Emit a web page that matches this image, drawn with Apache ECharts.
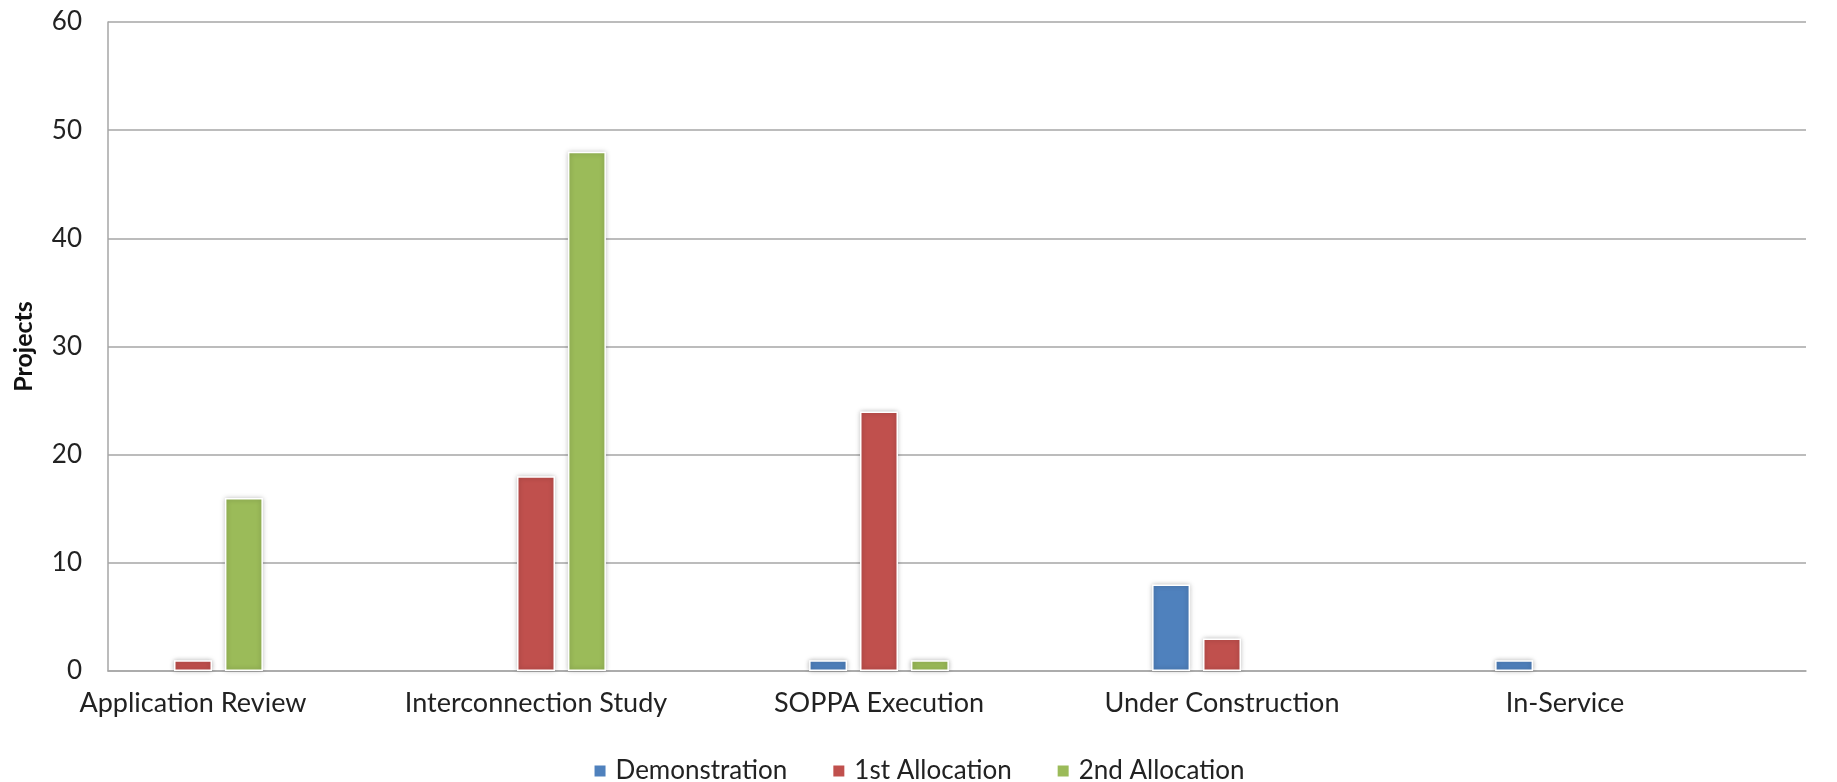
<!DOCTYPE html>
<html>
<head>
<meta charset="utf-8">
<script src="https://cdn.jsdelivr.net/npm/echarts@6/dist/echarts.min.js"></script>
<style>
html,body{margin:0;padding:0;background:#fff;}
#chart{width:1837px;height:782px;}
</style>
</head>
<body>
<div id="chart"></div>
<script>
const categories = ['Application Review', 'Interconnection Study', 'SOPPA Execution', 'Under Construction', 'In-Service'];
const demonstration = [0, 0, 1, 8, 1];
const firstAllocation = [1, 18, 24, 3, 0];
const secondAllocation = [16, 48, 1, 0, 0];
const seriesNames = ['Demonstration', '1st Allocation', '2nd Allocation'];
const colors = ['#4F81BD', '#C0504D', '#9BBB59'];

const FONT = 'Lato';
const chart = echarts.init(document.getElementById('chart'));

function barSeries(name, data, color) {
  return {
    name: name,
    type: 'bar',
    xAxisIndex: 1,
    yAxisIndex: 1,
    barWidth: 38,
    barGap: '34%',
    data: data.map(v => v === 0 ? null : v),
    itemStyle: {
      color: color,
      borderColor: '#ffffff',
      borderWidth: 1.5,
      shadowBlur: 5,
      shadowColor: 'rgba(0,0,0,0.28)'
    },
    emphasis: { disabled: true }
  };
}

chart.setOption({
  animation: false,
  color: colors,
  textStyle: { fontFamily: FONT },
  grid: [
    { left: 108, right: 31, top: 22, bottom: 111 },
    { left: 21.5, right: 100.5, top: 22, bottom: 111 }
  ],
  xAxis: [
    {
      type: 'category', gridIndex: 0, data: categories,
      axisLine: { show: true, lineStyle: { color: '#A6A6A6', width: 1.5 } },
      axisTick: { show: false }, axisLabel: { show: false }, splitLine: { show: false }
    },
    {
      type: 'category', gridIndex: 1, data: categories,
      axisLine: { show: false }, axisTick: { show: false }, splitLine: { show: false },
      axisLabel: { color: '#222', fontSize: 27, fontFamily: FONT, margin: 19, interval: 0 }
    }
  ],
  yAxis: [
    {
      type: 'value', gridIndex: 0, min: 0, max: 60, interval: 10,
      name: 'Projects', nameLocation: 'middle', nameRotate: 90, nameGap: 72,
      nameTextStyle: { color: '#111', fontSize: 25, fontWeight: 'bold', fontFamily: FONT },
      axisLine: { show: true, lineStyle: { color: '#A6A6A6', width: 1.5 } },
      axisTick: { show: false },
      axisLabel: { color: '#222', fontSize: 26, fontFamily: FONT, margin: 26 },
      splitLine: { show: true, lineStyle: { color: '#A6A6A6', width: 1.5 } }
    },
    {
      type: 'value', gridIndex: 1, min: 0, max: 60, interval: 10, show: false,
      splitLine: { show: false }
    }
  ],
  legend: {
    data: seriesNames,
    left: 'center',
    top: 753,
    icon: 'rect',
    itemWidth: 13,
    itemHeight: 13,
    itemGap: 44,
    textStyle: { color: '#222', fontSize: 26, fontFamily: FONT, padding: [0, 0, 0, 4] }
  },
  series: [
    barSeries(seriesNames[0], demonstration, colors[0]),
    barSeries(seriesNames[1], firstAllocation, colors[1]),
    barSeries(seriesNames[2], secondAllocation, colors[2])
  ]
});
</script>
</body>
</html>
